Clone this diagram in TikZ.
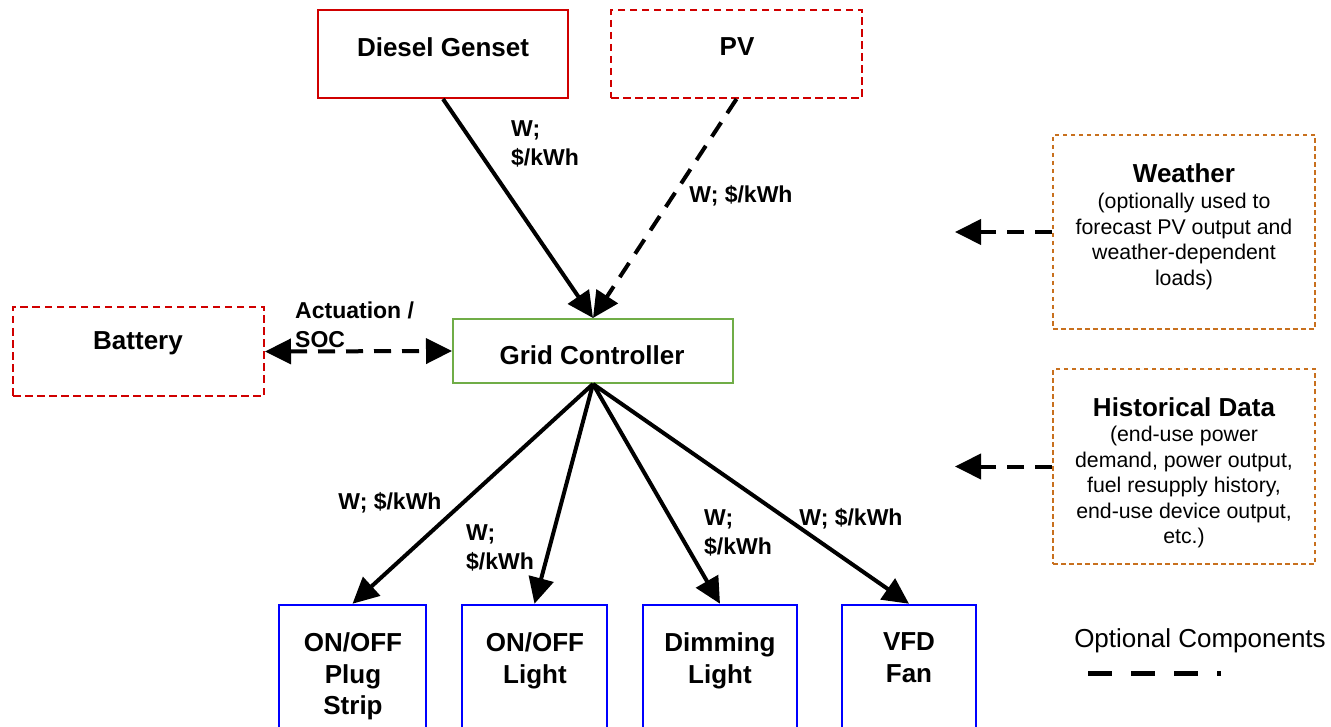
\documentclass[tikz,border=0pt]{standalone}
\usepackage{fontspec}
\setmainfont{Liberation Sans}
\usetikzlibrary{arrows.meta}
\definecolor{boxred}{HTML}{D00000}
\definecolor{boxorange}{HTML}{C8701E}
\definecolor{boxgreen}{HTML}{70AD47}
\definecolor{boxblue}{HTML}{0000FF}
\tikzset{
  redsolid/.style={draw=boxred, line width=2pt, inner sep=0pt},
  reddash/.style={draw=boxred, line width=2pt, inner sep=0pt, dash pattern=on 7.5pt off 4.5pt},
  orangedash/.style={draw=boxorange, line width=2pt, inner sep=0pt, dash pattern=on 4.5pt off 3.5pt},
  greenbox/.style={draw=boxgreen, line width=2pt, inner sep=0pt},
  bluebox/.style={draw=boxblue, line width=2.5pt, inner sep=0pt},
  titletext/.style={font=\fontsize{26}{31.5}\selectfont\bfseries, align=center, inner sep=0pt},
  bodytext/.style={font=\fontsize{21.3}{25.5}\selectfont, align=center, inner sep=0pt},
  elab/.style={font=\fontsize{23}{29.5}\selectfont\bfseries, inner sep=0pt},
  conn/.style={line width=4pt, -{Triangle[length=26pt,width=25pt]}},
  dconn/.style={conn, dash pattern=on 17pt off 11pt},
}
\begin{document}
\begin{tikzpicture}[x=1pt,y=-1pt]
\clip (0,0) rectangle (1331,727);
\fill[white] (0,0) rectangle (1331,727);

% boxes
\node[redsolid, minimum width=250pt, minimum height=88pt] (diesel) at (443,54) {};
\node[reddash, minimum width=251pt, minimum height=88pt] (pv) at (736.5,54) {};
\node[reddash, minimum width=251pt, minimum height=89pt] (battery) at (138.5,351.5) {};
\node[greenbox, minimum width=280pt, minimum height=64pt] (gc) at (593,351) {};
\node[orangedash, minimum width=262pt, minimum height=194pt] (weather) at (1184,232) {};
\node[orangedash, minimum width=262pt, minimum height=195pt] (hist) at (1184,466.5) {};
\node[bluebox, minimum width=147pt, minimum height=145pt] (b1) at (352.5,677.5) {};
\node[bluebox, minimum width=145pt, minimum height=145pt] (b2) at (534.5,677.5) {};
\node[bluebox, minimum width=154pt, minimum height=145pt] (b3) at (720,677.5) {};
\node[bluebox, minimum width=134pt, minimum height=145pt] (b4) at (909,677.5) {};

% box texts
\node[titletext] (tdiesel) at (443,47) {Diesel Genset};
\node[titletext] (tpv) at (737,47) {PV};
\node[titletext] (tbattery) at (138,343) {Battery};
\node[titletext] (tgc) at (592,355) {Grid Controller};
\node[titletext] (tweather) at (1184,173) {Weather};
\node[bodytext] (bweather) at (1184,241.5) {(optionally used to\\forecast PV output and\\weather-dependent\\loads)};
\node[titletext] (thist) at (1184,407) {Historical Data};
\node[bodytext] (bhist) at (1184,487) {(end-use power\\demand, power output,\\fuel resupply history,\\end-use device output,\\etc.)};
\node[titletext, anchor=north] (tb1) at (353,632.5) {ON/OFF\\Plug\\Strip};
\node[titletext, anchor=north] (tb2) at (535,632.5) {ON/OFF\\Light};
\node[titletext, anchor=north] (tb3) at (720,632.5) {Dimming\\Light};
\node[titletext, anchor=north] (tb4) at (909,632.5) {VFD\\Fan};

% connectors
\draw[conn] (diesel.south) -- (gc.north);
\draw[dconn] (pv.south) -- (gc.north);
\draw[dconn, {Triangle[length=26pt,width=25pt]}-{Triangle[length=26pt,width=25pt]}] (battery.east) -- (gc.west);
\coordinate (wtip) at (955,232);
\coordinate (htip) at (955,466.5);
\draw[dconn] (weather.west) -- (wtip);
\draw[dconn] (hist.west) -- (htip);
\draw[conn] (gc.south) -- (b1.north);
\draw[conn] (gc.south) -- (b2.north);
\draw[conn] (gc.south) -- (b3.north);
\draw[conn] (gc.south) -- (b4.north);

% edge labels
\node[elab, align=left, anchor=west] (ldiesel) at (511,144) {W;\\\$/kWh};
\node[elab] (lpv) at (741,196) {W; \$/kWh};
\node[elab, align=left, anchor=west] (lbat) at (295,325) {Actuation /\\SOC};
\node[elab] (lb1) at (390,503) {W; \$/kWh};
\node[elab, align=left, anchor=west] (lb2) at (466,548) {W;\\\$/kWh};
\node[elab, align=left, anchor=west] (lb3) at (704,533) {W;\\\$/kWh};
\node[elab] (lb4) at (851,519) {W; \$/kWh};

% legend
\node[font=\fontsize{26}{30}\selectfont, inner sep=0pt] (legend) at (1200,641) {Optional Components};
\coordinate (lgA) at (1088,673);
\coordinate (lgB) at (1221,673);
\draw[line width=5pt, dash pattern=on 24pt off 19pt] (lgA) -- (lgB);
\end{tikzpicture}
\end{document}
